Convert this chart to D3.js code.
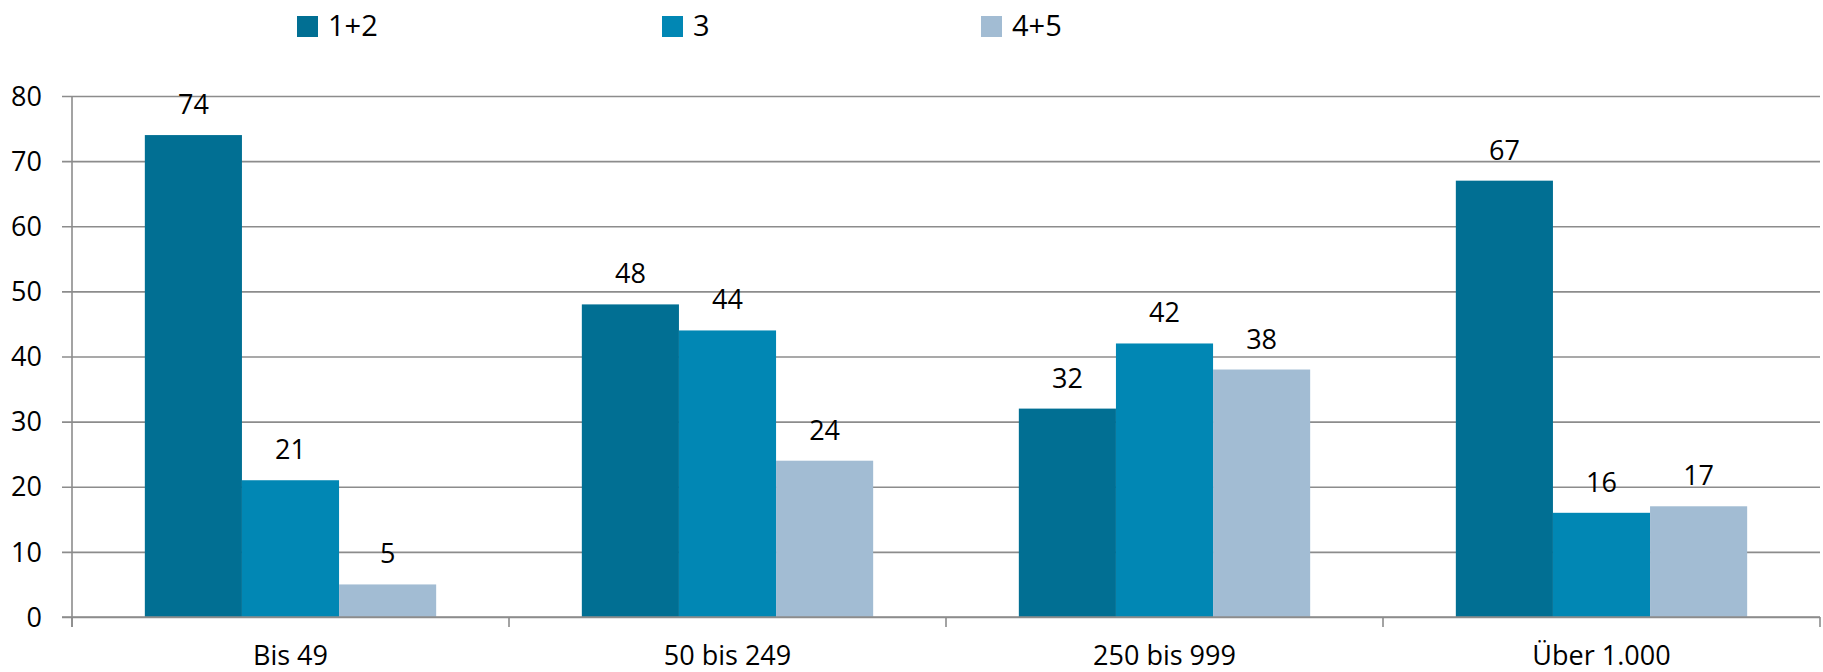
<!DOCTYPE html>
<html>
<head>
<meta charset="utf-8">
<script src="https://cdn.jsdelivr.net/npm/d3@7"></script>
<style>
  html, body { margin: 0; padding: 0; background: #fff; }
  svg { display: block; }
  text { font-family: "Open Sans", "Noto Sans", sans-serif; fill: #000; }
</style>
</head>
<body>
<svg id="chart" width="1823" height="672"></svg>
<script>
// Company size classes and the share of each rating group (%)
const categories = ["Bis 49", "50 bis 249", "250 bis 999", "Über 1.000"];
const seriesNames = ["1+2", "3", "4+5"];
const values12 = [74, 48, 32, 67];
const values3 = [21, 44, 42, 16];
const values45 = [5, 24, 38, 17];
const yTicks = [0, 10, 20, 30, 40, 50, 60, 70, 80];
const colors = ["#016F93", "#0187B4", "#A2BCD3"];

const seriesValues = [values12, values3, values45];

const svg = d3.select("#chart");
const plotLeft = 72, plotRight = 1820, plotTop = 96, plotBottom = 617;
const fontSize = 27;

const x = d3.scaleBand().domain(categories).range([plotLeft, plotRight]).padding(0);
const y = d3.scaleLinear().domain([0, 80]).range([plotBottom, plotTop]);

// gap width 150%: each bar is band / 4.5 wide
const barW = x.bandwidth() / 4.5;
const xInner = d3.scaleBand().domain(seriesNames)
  .range([barW * 0.75, barW * 3.75]).padding(0);

const gridColor = "#8C8C8C";

// horizontal gridlines with outward ticks
svg.append("g")
  .attr("transform", `translate(${plotLeft},0)`)
  .call(d3.axisLeft(y).tickValues(yTicks).tickSize(-(plotRight - plotLeft)).tickFormat(""))
  .call(g => g.select(".domain").remove())
  .call(g => g.selectAll("line").attr("stroke", gridColor).attr("stroke-width", 1.6).attr("x1", -10));

// tick labels
svg.append("g").selectAll("text")
  .data(yTicks)
  .join("text")
  .attr("x", 42)
  .attr("y", d => y(d))
  .attr("dy", "0.36em")
  .attr("text-anchor", "end")
  .attr("font-size", fontSize)
  .text(d => d);

// bars
const groups = svg.append("g").selectAll("g")
  .data(categories)
  .join("g")
  .attr("transform", d => `translate(${x(d)},0)`);

groups.selectAll("rect")
  .data((c, i) => seriesNames.map((s, j) => ({ s, v: seriesValues[j][i], j })))
  .join("rect")
  .attr("x", d => xInner(d.s))
  .attr("y", d => y(d.v))
  .attr("width", xInner.bandwidth())
  .attr("height", d => y(0) - y(d.v))
  .attr("fill", d => colors[d.j]);

groups.selectAll("text")
  .data((c, i) => seriesNames.map((s, j) => ({ s, v: seriesValues[j][i], j })))
  .join("text")
  .attr("x", d => xInner(d.s) + xInner.bandwidth() / 2)
  .attr("y", d => y(d.v) - 21)
  .attr("text-anchor", "middle")
  .attr("font-size", fontSize)
  .text(d => d.v);

// y axis line
svg.append("line")
  .attr("x1", plotLeft).attr("x2", plotLeft)
  .attr("y1", plotTop).attr("y2", plotBottom + 10)
  .attr("stroke", gridColor).attr("stroke-width", 1.6);

// x axis baseline and category boundary ticks
svg.append("line")
  .attr("x1", plotLeft - 10).attr("x2", plotRight)
  .attr("y1", plotBottom).attr("y2", plotBottom)
  .attr("stroke", gridColor).attr("stroke-width", 1.6);

const boundaries = categories.map(c => x(c)).concat([plotRight]);
svg.append("g").selectAll("line")
  .data(boundaries)
  .join("line")
  .attr("x1", d => d).attr("x2", d => d)
  .attr("y1", plotBottom).attr("y2", plotBottom + 10)
  .attr("stroke", gridColor).attr("stroke-width", 1.6);

// category labels
svg.append("g").selectAll("text")
  .data(categories)
  .join("text")
  .attr("x", d => x(d) + x.bandwidth() / 2)
  .attr("y", 665)
  .attr("text-anchor", "middle")
  .attr("font-size", fontSize)
  .text(d => d);

// legend
const legendX = [297, 662, 981];
const legend = svg.append("g").selectAll("g")
  .data(seriesNames)
  .join("g")
  .attr("transform", (d, i) => `translate(${legendX[i]},16)`);
legend.append("rect")
  .attr("width", 21).attr("height", 21)
  .attr("fill", (d, i) => colors[i]);
legend.append("text")
  .attr("x", 31).attr("y", 20)
  .attr("font-size", 29)
  .text(d => d);
</script>
</body>
</html>
